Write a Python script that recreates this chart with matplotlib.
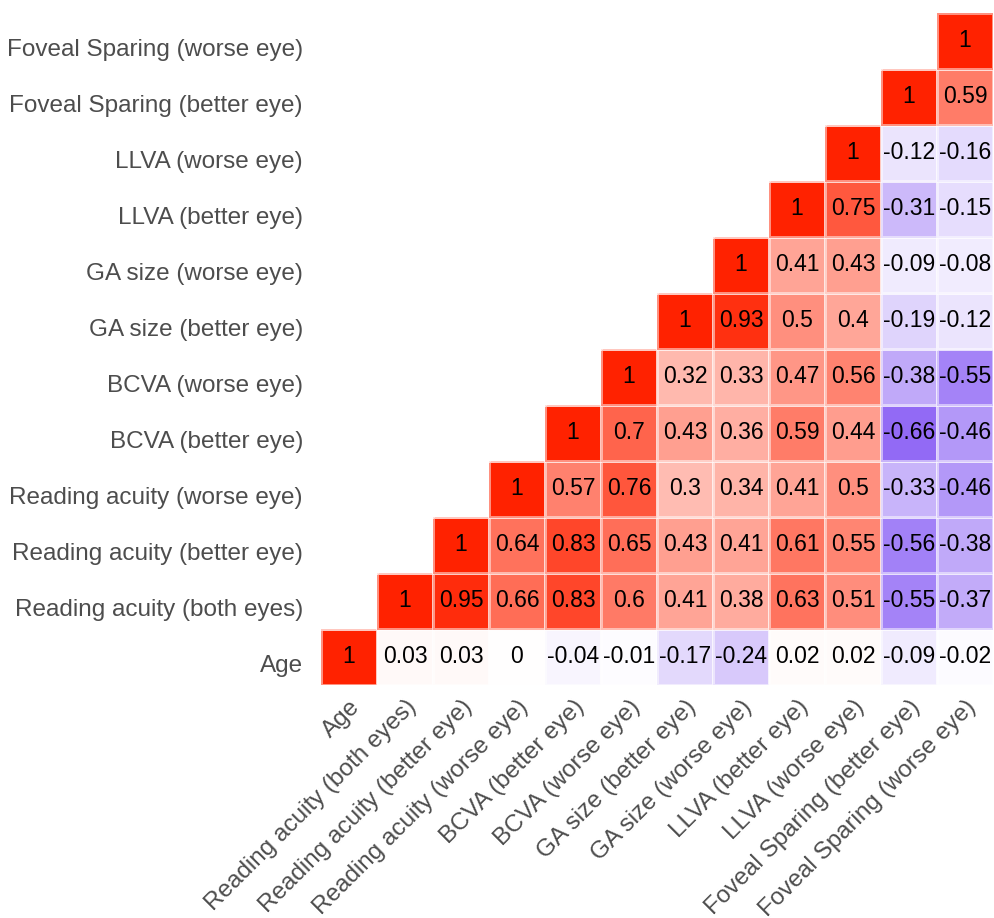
import numpy as np
import matplotlib.pyplot as plt
import matplotlib.transforms as mtransforms
from matplotlib.colors import LinearSegmentedColormap

plt.rcParams['font.family'] = ['Liberation Sans', 'DejaVu Sans']

labels = [
    "Age",
    "Reading acuity (both eyes)",
    "Reading acuity (better eye)",
    "Reading acuity (worse eye)",
    "BCVA (better eye)",
    "BCVA (worse eye)",
    "GA size (better eye)",
    "GA size (worse eye)",
    "LLVA (better eye)",
    "LLVA (worse eye)",
    "Foveal Sparing (better eye)",
    "Foveal Sparing (worse eye)",
]

# each row starts on the diagonal and runs to the last column
age_row = [1, 0.03, 0.03, 0, -0.04, -0.01, -0.17, -0.24, 0.02, 0.02, -0.09, -0.02]
ra_both_row = [1, 0.95, 0.66, 0.83, 0.6, 0.41, 0.38, 0.63, 0.51, -0.55, -0.37]
ra_better_row = [1, 0.64, 0.83, 0.65, 0.43, 0.41, 0.61, 0.55, -0.56, -0.38]
ra_worse_row = [1, 0.57, 0.76, 0.3, 0.34, 0.41, 0.5, -0.33, -0.46]
bcva_better_row = [1, 0.7, 0.43, 0.36, 0.59, 0.44, -0.66, -0.46]
bcva_worse_row = [1, 0.32, 0.33, 0.47, 0.56, -0.38, -0.55]
ga_better_row = [1, 0.93, 0.5, 0.4, -0.19, -0.12]
ga_worse_row = [1, 0.41, 0.43, -0.09, -0.08]
llva_better_row = [1, 0.75, -0.31, -0.15]
llva_worse_row = [1, -0.12, -0.16]
fs_better_row = [1, 0.59]
fs_worse_row = [1]

rows = [age_row, ra_both_row, ra_better_row, ra_worse_row, bcva_better_row,
        bcva_worse_row, ga_better_row, ga_worse_row, llva_better_row,
        llva_worse_row, fs_better_row, fs_worse_row]

n = len(labels)
corr = np.full((n, n), np.nan)
for i, r in enumerate(rows):
    corr[i, i:] = r

cmap = LinearSegmentedColormap.from_list(
    "corr", [(0.0, "#5A1EF0"), (0.5, "#FFFFFF"), (1.0, "#FF2200")])

fig = plt.figure(figsize=(9.95, 9.18), dpi=100)
ax = fig.add_axes([0.3226, 0.2538, 0.6754, 0.7331])

masked = np.ma.masked_invalid(corr)
edges = np.arange(n + 1) - 0.5
ax.pcolormesh(edges, edges, masked, cmap=cmap, vmin=-1, vmax=1,
              edgecolor=(1, 1, 1, 0.5), linewidth=0.8)

for i in range(n):
    for j in range(i, n):
        ax.text(j, i, f"{corr[i, j]:g}", ha='center', va='center',
                fontsize=16.5, color='black')

ax.set_xlim(-0.5, n - 0.5)
ax.set_ylim(-0.5, n - 0.5)
ax.set_aspect('equal')

ax.set_xticks(range(n))
ax.set_yticks(range(n))
ax.set_xticklabels(labels, rotation=45, ha='right', va='top',
                   rotation_mode='anchor', fontsize=17.5, color='#4D4D4D')
ax.set_yticklabels(labels, fontsize=17.5, color='#4D4D4D')
ax.tick_params(length=0)
ax.tick_params(axis='y', pad=13)
ax.tick_params(axis='x', pad=8)

# row labels sit a little below the cell centres
shift = mtransforms.ScaledTranslation(0, -0.07, fig.dpi_scale_trans)
for t in ax.get_yticklabels():
    t.set_transform(t.get_transform() + shift)

for s in ax.spines.values():
    s.set_visible(False)

fig.savefig("out.png", dpi=100)
